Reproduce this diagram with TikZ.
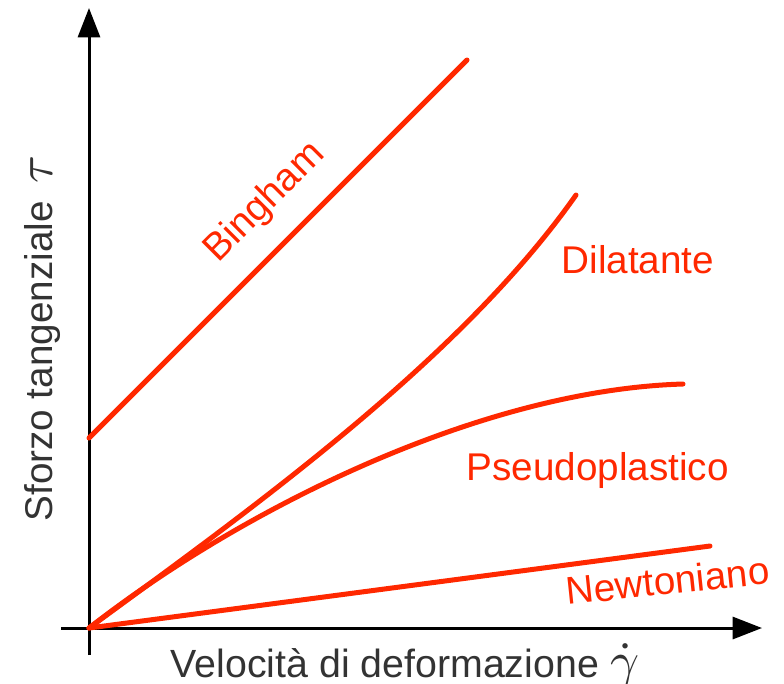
\documentclass[tikz,border=0pt]{standalone}
\usepackage{fontspec}
\setmainfont{Liberation Sans}
\usetikzlibrary{arrows.meta}
\definecolor{flowred}{RGB}{255,40,0}
\newcommand{\bigmath}[1]{\scalebox{3.8}{\normalsize$#1$}}
\tikzset{every picture/.style={line width=0.75pt}}
\tikzset{
  axis/.style={draw=black, line width=2.25pt, -{Triangle[length=22pt,width=16.5pt]}},
  curve/.style={draw=flowred, line width=3.75pt, line cap=round},
  curvelabel/.style={text=flowred, inner sep=0pt, font=\fontsize{29}{33}\selectfont},
  axislabel/.style={text=black!80, inner sep=0pt, font=\fontsize{29.5}{33}\selectfont}
}
\begin{document}
\begin{tikzpicture}[x=0.75pt,y=0.75pt,yscale=-1,xscale=1]
\useasboundingbox (0,0) rectangle (784,683);

%Coordinates
\coordinate (origin) at (89,628);
\coordinate (ybot) at (89,655);
\coordinate (ytop) at (89,8);
\coordinate (xleft) at (61,628);
\coordinate (xright) at (762,628);
\coordinate (bingA) at (89,438);
\coordinate (bingB) at (467,60);
\coordinate (dilEnd) at (576,195);
\coordinate (pseudoEnd) at (683,384);
\coordinate (newtEnd) at (710,546);

%Axes
\draw [axis] (ybot) -- (ytop) ;
\draw [axis] (xleft) -- (xright) ;

%Curve Lines
\draw [curve] (bingA) -- (bingB) ;
\draw [curve] (origin) .. controls (250,510) and (460,360) .. (dilEnd) ;
\draw [curve] (origin) .. controls (240,510) and (480,390) .. (pseudoEnd) ;
\draw [curve] (origin) -- (newtEnd) ;

% Text Node
\node (bingham) [curvelabel, anchor=base, rotate=45] at (272,210) {Bingham};
% Text Node
\node (dilatante) [curvelabel, anchor=base west] at (561,273) {Dilatante};
% Text Node
\node (pseudo) [curvelabel, anchor=base west] at (466,480) {Pseudoplastico};
% Text Node
\node (newton) [curvelabel, anchor=base west, rotate=6] at (567,605) {Newtoniano};

% Text Node
\node (ylabel) [axislabel, font=\fontsize{29}{33}\selectfont, anchor=base west, rotate=90] at (52,522) {Sforzo tangenziale\hspace{0.45em}\bigmath{\tau}};
% Text Node
\node (xlabel) [axislabel, anchor=base west] at (170,677) {Velocità di deformazione\hspace{0.3em}\bigmath{\dot{\gamma}}};

\end{tikzpicture}
\end{document}
